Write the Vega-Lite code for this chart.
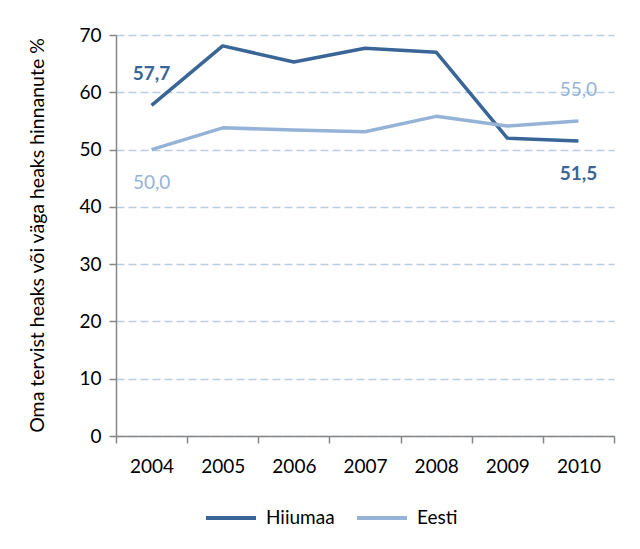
{
  "$schema": "https://vega.github.io/schema/vega-lite/v6.json",
  "width": 498,
  "height": 401,
  "autosize": {"type": "none"},
  "padding": {"left": 116, "top": 35, "right": 26, "bottom": 113},
  "background": "white",
  "config": {
    "view": {"stroke": null},
    "font": "Lato",
    "locale": {"number": {"decimal": ",", "thousands": " ", "grouping": [3], "currency": ["", " €"]}}
  },
  "data": {
    "values": [
      {"year": 2004, "series": "Hiiumaa", "value": 57.7},
      {"year": 2005, "series": "Hiiumaa", "value": 68.1},
      {"year": 2006, "series": "Hiiumaa", "value": 65.3},
      {"year": 2007, "series": "Hiiumaa", "value": 67.7},
      {"year": 2008, "series": "Hiiumaa", "value": 67.0},
      {"year": 2009, "series": "Hiiumaa", "value": 52.0},
      {"year": 2010, "series": "Hiiumaa", "value": 51.5},
      {"year": 2004, "series": "Eesti", "value": 50.0},
      {"year": 2005, "series": "Eesti", "value": 53.8},
      {"year": 2006, "series": "Eesti", "value": 53.4},
      {"year": 2007, "series": "Eesti", "value": 53.1},
      {"year": 2008, "series": "Eesti", "value": 55.8},
      {"year": 2009, "series": "Eesti", "value": 54.1},
      {"year": 2010, "series": "Eesti", "value": 55.0}
    ]
  },
  "encoding": {
    "x": {
      "field": "year", "type": "quantitative",
      "scale": {"domain": [2003.5, 2010.5], "nice": false, "zero": false},
      "axis": {
        "values": [2003.5, 2004.5, 2005.5, 2006.5, 2007.5, 2008.5, 2009.5, 2010.5],
        "labelExpr": "datum.value > 2010 ? '' : format(datum.value + 0.5, 'd')",
        "labelOffset": 35.6,
        "labelAlign": "center",
        "labelFontSize": 19,
        "labelColor": "#000000",
        "labelPadding": 14,
        "labelFlush": false,
        "labelOverlap": false,
        "tickSize": 7,
        "tickColor": "#868686",
        "tickWidth": 1.5,
        "domainColor": "#868686",
        "domainWidth": 1.5,
        "grid": false,
        "title": null
      }
    },
    "y": {
      "field": "value", "type": "quantitative",
      "scale": {"domain": [0, 70], "nice": false},
      "axis": {
        "values": [0, 10, 20, 30, 40, 50, 60, 70],
        "labelFontSize": 19,
        "labelColor": "#000000",
        "labelPadding": 8,
        "tickSize": 7,
        "tickColor": "#868686",
        "tickWidth": 1.5,
        "domainColor": "#868686",
        "domainWidth": 1.5,
        "grid": true,
        "gridColor": "#B9CDE5",
        "gridDash": [8, 4],
        "gridWidth": 1.5,
        "title": "Oma tervist heaks või väga heaks hinnanute %",
        "titleFontSize": 19.5,
        "titleFontWeight": "normal",
        "titleColor": "#000000",
        "titleAngle": -90,
        "titleX": -88,
        "titleY": 200,
        "titleAlign": "center",
        "titleBaseline": "top"
      }
    },
    "color": {
      "field": "series", "type": "nominal",
      "scale": {"domain": ["Hiiumaa", "Eesti"], "range": ["#3A6597", "#95B3D7"]},
      "legend": {
        "title": null,
        "orient": "none",
        "direction": "horizontal",
        "legendX": 88,
        "legendY": 456,
        "symbolType": "stroke",
        "symbolSize": 2500,
        "symbolStrokeWidth": 4,
        "labelFontSize": 19,
        "labelColor": "#000000",
        "columnPadding": 14,
        "labelOffset": 8
      }
    }
  },
  "layer": [
    {
      "mark": {"type": "line", "strokeWidth": 3.5, "strokeJoin": "round"},
      "encoding": {"detail": {"field": "series"}}
    },
    {
      "transform": [{"filter": "datum.series == 'Hiiumaa' && datum.year == 2004"}],
      "mark": {"type": "text", "dy": -31, "fontSize": 19, "fontWeight": "bold"},
      "encoding": {"text": {"field": "value", "type": "quantitative", "format": ".1f"}}
    },
    {
      "transform": [{"filter": "datum.series == 'Eesti' && datum.year == 2010"}],
      "mark": {"type": "text", "dy": -31, "fontSize": 19, "fontWeight": "normal"},
      "encoding": {"text": {"field": "value", "type": "quantitative", "format": ".1f"}}
    },
    {
      "transform": [{"filter": "datum.series == 'Hiiumaa' && datum.year == 2010"}],
      "mark": {"type": "text", "dy": 33, "fontSize": 19, "fontWeight": "bold"},
      "encoding": {"text": {"field": "value", "type": "quantitative", "format": ".1f"}}
    },
    {
      "transform": [{"filter": "datum.series == 'Eesti' && datum.year == 2004"}],
      "mark": {"type": "text", "dy": 33, "fontSize": 19, "fontWeight": "normal"},
      "encoding": {"text": {"field": "value", "type": "quantitative", "format": ".1f"}}
    }
  ]
}
